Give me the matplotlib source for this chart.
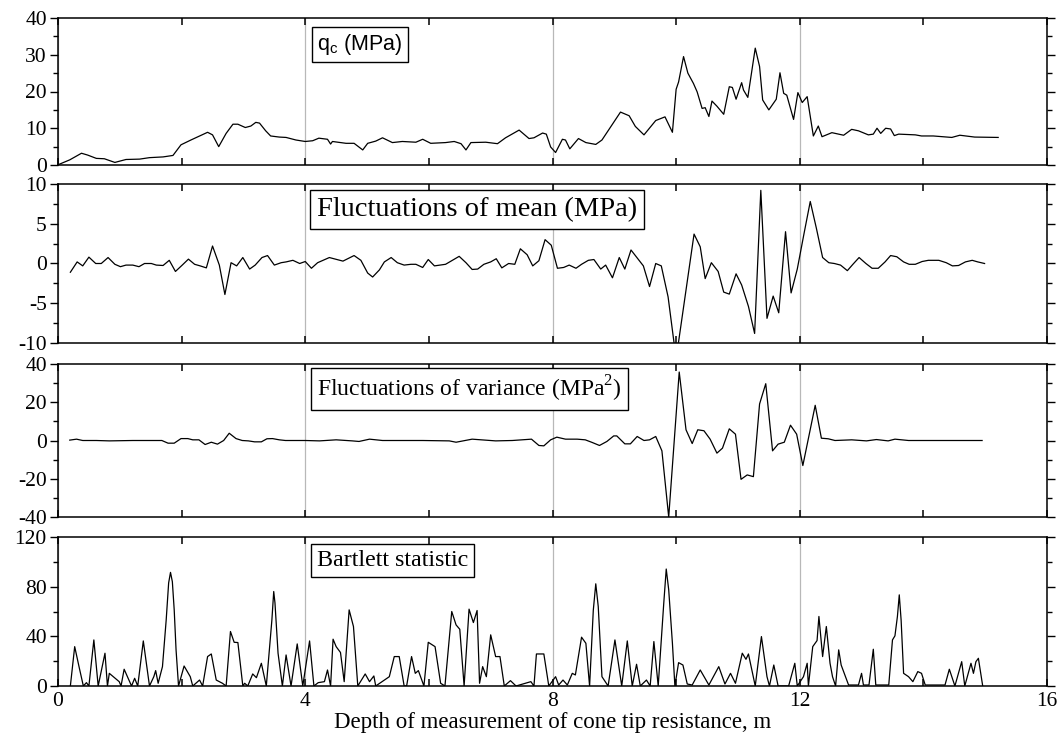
import matplotlib
matplotlib.use("Agg")
import matplotlib.pyplot as plt
from matplotlib.ticker import MultipleLocator

plt.rcParams['font.family'] = ['Liberation Serif', 'DejaVu Serif']
plt.rcParams['axes.unicode_minus'] = False
plt.rcParams['mathtext.fontset'] = 'custom'
plt.rcParams['mathtext.rm'] = 'Liberation Serif'

# Cone tip resistance q_c (MPa) against depth (m)
qc_depth = [0.02, 0.19, 0.38, 0.48, 0.62, 0.75, 0.92, 1.10, 1.32, 1.48, 1.70, 1.86,
            1.99, 2.15, 2.29, 2.42, 2.50, 2.60, 2.72, 2.83, 2.91, 3.03, 3.12, 3.20,
            3.26, 3.36, 3.44, 3.58, 3.69, 3.85, 4.00, 4.12, 4.22, 4.36, 4.41, 4.44,
            4.66, 4.79, 4.93, 5.01, 5.14, 5.25, 5.41, 5.57, 5.79, 5.90, 6.03, 6.27,
            6.41, 6.52, 6.60, 6.68, 6.92, 7.11, 7.24, 7.46, 7.62, 7.70, 7.84, 7.90,
            7.97, 8.05, 8.16, 8.21, 8.28, 8.42, 8.54, 8.70, 8.80, 8.97, 9.10, 9.24,
            9.34, 9.48, 9.67, 9.82, 9.94, 10.00, 10.04, 10.12, 10.19, 10.28, 10.34,
            10.42, 10.47, 10.53, 10.58, 10.66, 10.77, 10.86, 10.91, 10.97, 11.06,
            11.09, 11.16, 11.28, 11.35, 11.40, 11.50, 11.58, 11.62, 11.68, 11.74,
            11.79, 11.90, 11.97, 12.04, 12.12, 12.22, 12.30, 12.36, 12.52, 12.71,
            12.84, 12.95, 13.11, 13.19, 13.25, 13.31, 13.39, 13.47, 13.53, 13.60,
            13.87, 13.97, 14.16, 14.46, 14.59, 14.83, 15.21]
qc_values = [0.2, 1.4, 3.2, 2.7, 1.8, 1.7, 0.7, 1.5, 1.6, 2.0, 2.2, 2.6,
             5.5, 6.8, 7.9, 8.9, 8.2, 5.0, 8.6, 11.1, 11.1, 10.2, 10.6, 11.6,
             11.4, 9.3, 7.9, 7.6, 7.5, 6.8, 6.4, 6.6, 7.3, 7.0, 5.7, 6.4,
             5.9, 5.9, 4.1, 5.9, 6.5, 7.4, 6.1, 6.4, 6.2, 7.0, 5.9, 6.1,
             6.4, 5.8, 4.1, 6.1, 6.2, 5.8, 7.4, 9.5, 7.2, 7.4, 8.7, 8.4,
             4.9, 3.4, 7.0, 6.8, 4.4, 7.2, 6.1, 5.6, 6.8, 11.1, 14.4, 13.4,
             10.5, 8.2, 12.1, 13.1, 8.9, 20.6, 22.6, 29.5, 25.0, 22.2, 19.9,
             15.4, 15.6, 13.2, 17.4, 16.0, 13.8, 21.3, 21.1, 17.9, 22.4,
             20.4, 18.4, 31.8, 26.8, 17.7, 15.0, 16.9, 17.9, 25.1, 19.5,
             19.0, 12.4, 19.7, 17.0, 18.6, 7.9, 10.6, 7.7, 8.8, 8.1,
             9.7, 9.3, 8.2, 8.4, 10.0, 8.6, 10.0, 9.8, 8.0, 8.4,
             8.2, 7.9, 7.9, 7.5, 8.1, 7.6, 7.5]

# Fluctuations of the moving mean (MPa)
mean_depth = [0.20, 0.31, 0.40, 0.50, 0.61, 0.70, 0.81, 0.92, 1.01, 1.10, 1.21, 1.31,
              1.40, 1.51, 1.59, 1.70, 1.80, 1.90, 2.01, 2.11, 2.21, 2.30, 2.40, 2.50,
              2.61, 2.70, 2.80, 2.89, 2.99, 3.10, 3.19, 3.30, 3.39, 3.50, 3.61, 3.69,
              3.80, 3.91, 4.00, 4.10, 4.20, 4.39, 4.61, 4.79, 4.90, 5.01, 5.09, 5.20,
              5.28, 5.39, 5.49, 5.60, 5.71, 5.79, 5.90, 5.99, 6.09, 6.27, 6.49, 6.60,
              6.70, 6.79, 6.89, 7.00, 7.09, 7.18, 7.29, 7.39, 7.48, 7.59, 7.68, 7.78,
              7.88, 7.98, 8.08, 8.18, 8.27, 8.38, 8.47, 8.58, 8.67, 8.78, 8.86, 8.97,
              9.08, 9.17, 9.27, 9.37, 9.47, 9.57, 9.67, 9.76, 9.87, 10.00, 10.29,
              10.39, 10.47, 10.57, 10.68, 10.77, 10.86, 10.97, 11.06, 11.17, 11.27,
              11.37, 11.47, 11.57, 11.66, 11.77, 11.86, 11.96, 12.07, 12.17, 12.27,
              12.37, 12.47, 12.56, 12.66, 12.77, 12.86, 12.96, 13.07, 13.17, 13.27,
              13.38, 13.47, 13.57, 13.68, 13.77, 13.87, 13.98, 14.08, 14.25, 14.37,
              14.47, 14.57, 14.68, 14.79, 14.88, 14.99]
mean_values = [-1.1, 0.2, -0.3, 0.8, 0.0, 0.0, 0.75, -0.1, -0.4, -0.2, -0.2, -0.4,
               0.0, 0.0, -0.2, -0.25, 0.4, -1.0, -0.2, 0.55, -0.1, -0.3, -0.55, 2.2,
               -0.2, -3.9, 0.1, -0.3, 0.75, -0.7, -0.2, 0.75, 1.0, -0.2, 0.1, 0.2,
               0.4, 0.0, 0.25, -0.6, 0.1, 0.75, 0.3, 1.0, 0.4, -1.2, -1.7, -0.8,
               0.2, 0.75, 0.1, -0.2, -0.1, -0.1, -0.5, 0.5, -0.3, -0.1, 0.9, 0.1,
               -0.75, -0.7, -0.1, 0.2, 0.6, -0.55, 0.0, -0.1, 1.85, 1.1, -0.3, 0.35,
               3.0, 2.3, -0.6, -0.5, -0.2, -0.6, -0.1, 0.4, 0.5, -0.7, -0.2, -1.8,
               0.75, -0.7, 1.7, 0.7, -0.3, -2.9, 0.0, -0.3, -4.2, -12.0, 3.7,
               2.1, -1.9, 0.1, -1.0, -3.6, -3.85, -1.3, -2.7, -5.4, -8.8,
               9.2, -6.9, -4.1, -6.2, 4.0, -3.7, -0.7, 3.8, 7.8, 4.4,
               0.75, 0.1, 0.0, -0.2, -0.9, -0.1, 0.75, 0.0, -0.6, -0.6,
               0.2, 1.0, 0.85, 0.2, -0.1, -0.1, 0.25, 0.4, 0.4, 0.1,
               -0.3, -0.25, 0.2, 0.4, 0.2, 0.0]

# Fluctuations of the moving variance (MPa^2)
var_depth = [0.19, 0.30, 0.40, 0.62, 0.83, 1.21, 1.68, 1.78, 1.88, 1.99, 2.10, 2.18,
             2.28, 2.38, 2.48, 2.58, 2.68, 2.77, 2.88, 2.98, 3.08, 3.18, 3.29, 3.38,
             3.47, 3.58, 3.68, 4.00, 4.23, 4.50, 4.76, 4.87, 5.04, 5.25, 5.90, 6.33,
             6.44, 6.70, 7.08, 7.35, 7.66, 7.78, 7.86, 7.97, 8.07, 8.21, 8.40, 8.53,
             8.64, 8.76, 8.88, 8.99, 9.04, 9.17, 9.26, 9.37, 9.48, 9.57, 9.67, 9.77,
             9.88, 10.05, 10.16, 10.26, 10.35, 10.45, 10.55, 10.66, 10.75, 10.86,
             10.96, 11.05, 11.15, 11.25, 11.35, 11.45, 11.56, 11.65, 11.75, 11.85,
             11.95, 12.05, 12.25, 12.35, 12.46, 12.57, 12.84, 13.08, 13.24, 13.43,
             13.54, 13.76, 14.95]
var_values = [0.2, 0.7, 0.0, 0.0, -0.2, 0.0, 0.0, -1.4, -1.4, 1.0, 1.0, 0.35,
              0.35, -2.1, -0.9, -1.9, 0.0, 3.8, 1.0, 0.0, -0.2, -0.7, -0.7, 0.9,
              1.0, 0.35, 0.0, 0.0, -0.2, 0.35, -0.2, -0.5, 0.7, 0.0, 0.0, -0.2,
              -0.9, 0.7, -0.2, 0.0, 0.7, -2.6, -2.8, 0.35, 1.75, 0.7, 0.7, 0.35,
              -1.0, -2.6, -0.5, 2.4, 2.4, -1.75, -1.75, 2.1, 0.0, 0.35, 2.1, -5.4,
              -40.0, 35.8, 5.6, -1.6, 5.6, 5.1, 0.7, -6.6, -4.0, 6.1,
              3.3, -20.3, -18.0, -18.9, 19.1, 29.7, -5.4, -1.9, -0.9, 8.0,
              3.3, -13.1, 18.4, 1.2, 0.9, 0.0, 0.35, -0.2, 0.5, -0.2,
              0.7, 0.0, 0.0]

# Bartlett statistic
bart_depth = [0.20, 0.27, 0.34, 0.41, 0.46, 0.50, 0.58, 0.65, 0.76, 0.80, 0.83, 0.99,
              1.02, 1.07, 1.17, 1.19, 1.24, 1.29, 1.38, 1.48, 1.55, 1.58, 1.62, 1.69,
              1.75, 1.79, 1.82, 1.85, 1.88, 1.91, 1.95, 2.04, 2.14, 2.18, 2.29, 2.34,
              2.42, 2.48, 2.56, 2.66, 2.72, 2.79, 2.85, 2.91, 2.99, 3.02, 3.07, 3.15,
              3.21, 3.29, 3.37, 3.44, 3.46, 3.49, 3.51, 3.56, 3.63, 3.69, 3.77, 3.87,
              3.96, 4.07, 4.14, 4.21, 4.31, 4.36, 4.41, 4.45, 4.50, 4.57, 4.63, 4.71,
              4.78, 4.85, 4.97, 5.04, 5.11, 5.14, 5.36, 5.44, 5.52, 5.60, 5.64, 5.72,
              5.78, 5.83, 5.92, 5.99, 6.10, 6.19, 6.26, 6.37, 6.44, 6.50, 6.57, 6.65,
              6.72, 6.78, 6.82, 6.87, 6.93, 7.00, 7.08, 7.15, 7.22, 7.32, 7.41, 7.65,
              7.70, 7.74, 7.86, 7.94, 8.05, 8.10, 8.17, 8.24, 8.32, 8.37, 8.47, 8.54,
              8.60, 8.66, 8.70, 8.74, 8.80, 8.90, 9.01, 9.12, 9.21, 9.29, 9.36, 9.42,
              9.52, 9.58, 9.64, 9.71, 9.80, 9.84, 9.88, 9.94, 9.98, 10.04, 10.11,
              10.18, 10.26, 10.39, 10.53, 10.69, 10.79, 10.88, 10.96, 11.07, 11.13,
              11.17, 11.28, 11.38, 11.47, 11.51, 11.58, 11.65, 11.82, 11.92, 11.96,
              12.06, 12.12, 12.14, 12.21, 12.28, 12.31, 12.37, 12.43, 12.49, 12.53,
              12.58, 12.63, 12.67, 12.74, 12.79, 12.95, 13.00, 13.03, 13.12, 13.19,
              13.23, 13.44, 13.50, 13.54, 13.58, 13.61, 13.64, 13.68, 13.76, 13.83,
              13.91, 13.97, 14.03, 14.35, 14.42, 14.51, 14.62, 14.67, 14.77, 14.81,
              14.85, 14.89, 14.96]
bart_values = [0, 31.7, 15.6, 0, 2.7, 0, 37.1, 0, 26.4, 0, 10.2, 3.5,
               0, 13.5, 2.2, 0, 6.2, 0, 36.3, 0, 7.5, 12.4, 2.2, 15.6,
               53.0, 83.0, 91.5, 84.0, 61.3, 29.0, 0, 16.1, 7.5, 0, 4.8, 0,
               23.7, 25.8, 4.8, 2.2, 0, 43.9, 35.2, 35.0, 0, 2.2, 0, 9.7,
               6.7, 18.3, 0, 42.0, 53.0, 76.1, 67.0, 26.4, 0, 25.0, 0, 33.9,
               0, 36.3, 0, 2.7, 3.5, 12.9, 0, 37.7, 31.7, 27.0, 3.5, 61.3,
               47.9, 0, 9.7, 3.5, 8.1, 0, 7.5, 23.7, 23.7, 0, 0, 23.7,
               10.2, 12.4, 0, 35.2, 31.7, 2.2, 0, 60.0, 49.2, 45.7, 0, 61.9,
               51.1, 60.8, 2.2, 15.6, 7.5, 41.2, 23.7, 23.7, 0, 4.3, 0, 3.5,
               0, 25.8, 25.8, 0, 7.5, 0.8, 4.8, 0.8, 10.2, 8.9, 39.3, 34.4,
               0, 61.0, 82.3, 64.0, 7.5, 0, 37.1, 0, 36.3, 0, 17.5, 0,
               4.8, 0, 35.8, 0, 66.7, 94.2, 77.5, 34.4, 0, 18.8, 16.9,
               1.6, 0.8, 12.9, 0.8, 15.6, 1.6, 10.2, 2.2, 26.4, 21.5,
               25.8, 0, 39.8, 7.5, 0, 16.9, 0, 0, 18.3, 0,
               7.5, 18.3, 0, 31.7, 36.6, 56.0, 23.7, 47.9, 18.3, 7.5,
               0, 29.1, 16.9, 7.5, 0.8, 0.8, 10.2, 0.8, 0.8, 29.6,
               0.8, 0.8, 37.1, 40.4, 56.0, 73.4, 53.0, 10.2, 7.5, 3.5,
               11.6, 10.2, 0.8, 0.8, 13.5, 0, 19.6, 0, 18.3, 10.2,
               19.6, 22.3, 0]

panel_labels = [r'q$_\mathregular{c}$ (MPa)', 'Fluctuations of mean (MPa)',
                r'Fluctuations of variance (MPa$^\mathregular{2}$)', 'Bartlett statistic']
x_label = 'Depth of measurement of cone tip resistance, m'

series = [(qc_depth, qc_values), (mean_depth, mean_values),
          (var_depth, var_values), (bart_depth, bart_values)]
ylims = [(0, 40), (-10, 10), (-40, 40), (0, 120)]
ymajor = [10, 5, 20, 40]
yminor = [5, 2.5, 10, 20]

# axes rectangles in figure fractions [left, bottom, width, height]
W, H = 1061, 744
boxes_px = [(18, 165), (184, 343), (364, 517), (537, 686)]
left_px, right_px = 58, 1047

label_style = [
    dict(y=0.82, size=15.5, family=['Liberation Sans', 'DejaVu Sans']),
    dict(y=0.84, size=20.5, family=['Liberation Serif', 'DejaVu Serif']),
    dict(y=0.837, size=17, family=['Liberation Serif', 'DejaVu Serif']),
    dict(y=0.839, size=17.3, family=['Liberation Serif', 'DejaVu Serif']),
]

fig = plt.figure(figsize=(W / 100, H / 100), dpi=100)
axes = []
for i, (top, bot) in enumerate(boxes_px):
    rect = [left_px / W, 1 - bot / H, (right_px - left_px) / W, (bot - top) / H]
    ax = fig.add_axes(rect)
    axes.append(ax)
    x, y = series[i]
    ax.plot(x, y, color='black', lw=0.9, zorder=3)
    ax.set_xlim(0, 16)
    ax.set_ylim(*ylims[i])
    ax.xaxis.set_major_locator(MultipleLocator(4))
    ax.xaxis.set_minor_locator(MultipleLocator(2))
    ax.yaxis.set_major_locator(MultipleLocator(ymajor[i]))
    ax.yaxis.set_minor_locator(MultipleLocator(yminor[i]))
    ax.grid(axis='x', which='major', color='#b8b8b8', lw=0.9, zorder=1)
    ax.tick_params(axis='x', which='both', direction='in', top=True, bottom=True,
                   length=5, width=1.1, labelsize=15.5, pad=4)
    ax.tick_params(axis='y', which='major', direction='out', left=True, right=True,
                   length=6, width=1.0, labelsize=15.5, pad=2)
    ax.tick_params(axis='y', which='minor', direction='out', left=True, right=True,
                   length=3.5, width=1.0)
    for s in ax.spines.values():
        s.set_linewidth(1.1)
    if i < 3:
        ax.tick_params(axis='x', labelbottom=False)
    st = label_style[i]
    ax.text(0.262, st['y'], panel_labels[i], transform=ax.transAxes,
            ha='left', va='center', fontsize=st['size'], family=st['family'],
            zorder=5,
            bbox=dict(boxstyle='square,pad=0.25', fc='white', ec='black', lw=1.0))

axes[-1].set_xlabel(x_label, fontsize=16.5, labelpad=1)

fig.savefig('out.png', dpi=100)
